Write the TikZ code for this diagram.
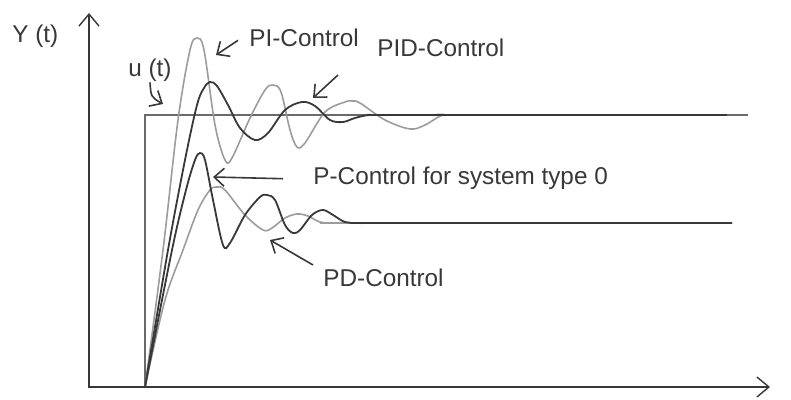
\documentclass[tikz,border=0pt]{standalone}
\usepackage{fontspec}
\setmainfont{Liberation Sans}
\usetikzlibrary{arrows.meta}
\definecolor{ink}{HTML}{383838}
\definecolor{lightcurve}{HTML}{9C9C9C}
\definecolor{stepline}{HTML}{6A6A6A}
\tikzset{
  lab/.style={anchor=base west,inner sep=0pt,text=ink,font=\fontsize{12.15}{14}\selectfont},
  pointer/.style={draw=ink,line width=0.8pt,-{Straight Barb[length=5pt,width=9pt]}},
  darkcurve/.style={ink,line width=0.9pt},
  palecurve/.style={lightcurve,line width=0.8pt}
}
\begin{document}
\begin{tikzpicture}[x=0.5pt,y=-0.5pt]
  \useasboundingbox (0,0) rectangle (791,400);
  % axes
  \coordinate (o) at (89,387);
  \coordinate (ytop) at (89,13);
  \coordinate (xend) at (770,387);
  \draw[ink,line width=0.7pt,{Straight Barb[length=6pt,width=10pt]}-{Straight Barb[length=6pt,width=10pt]}] (ytop) -- (o) -- (xend);
  % unit step u(t)
  \draw[stepline,line width=0.55pt] (145,387) -- (145,115) -- (748,115);
  % PI
  \draw[palecurve] plot[smooth,tension=0.55] coordinates {(145,387) (163,250) (178,120) (190,50) (197,38) (204,50) (215,125) (225,160) (232,158) (250,118) (265,90) (273,85) (281,92) (290,130) (297,147) (305,143) (325,112) (345,102) (352,101) (360,103) (385,120) (410,129) (425,125) (443,115) (460,115) (727,115)};
  % PID
  \draw[darkcurve] plot[smooth,tension=0.55] coordinates {(145,387) (168,250) (185,160) (197,105) (204,88) (210,82) (217,86) (228,105) (240,128) (255,140) (268,133) (285,110) (302,102) (315,106) (330,120) (343,122) (355,118) (370,115) (400,115) (727,115)};
  % PD
  \draw[palecurve] plot[smooth,tension=0.55] coordinates {(145,387) (165,300) (183,250) (198,210) (210,190) (217,187) (225,190) (245,215) (263,230) (272,228) (285,218) (297,214) (308,216) (320,222) (335,223) (350,223) (732,223)};
  % P
  \draw[darkcurve] plot[smooth,tension=0.55] coordinates {(145,387) (172,250) (186,190) (195,160) (200,153) (205,160) (213,200) (223,245) (230,243) (245,215) (260,197) (267,195) (275,200) (285,225) (293,233) (300,230) (312,215) (323,210) (333,215) (345,222) (360,223) (400,223) (732,223)};
  % labels
  \node[lab] (ylab) at (12,43) {Y (t)};
  \node[lab] (ulab) at (128,77) {u (t)};
  \node[lab] (pilab) at (249,47) {PI-Control};
  \node[lab] (pidlab) at (377,57) {PID-Control};
  \node[lab] (plab) at (313,185) {P-Control for system type 0};
  \node[lab] (pdlab) at (323,287) {PD-Control};
  % arrows to the curves
  \coordinate (uend) at (163,104);
  \coordinate (piend) at (216,55);
  \coordinate (pidstart) at (338,75);
  \coordinate (pidend) at (313,98);
  \coordinate (pend) at (213,177);
  \coordinate (pdend) at (270,240);
  \draw[pointer] (ulab.south) .. controls (151,97) .. (uend);
  \draw[pointer] ([xshift=-5.5pt,yshift=-1pt]pilab.west) -- (piend);
  \draw[pointer] (pidstart) -- (pidend);
  \draw[pointer] ([xshift=-15pt]plab.west) -- (pend);
  \draw[pointer] ([xshift=-5pt,yshift=2pt]pdlab.north west) -- (pdend);
\end{tikzpicture}
\end{document}
